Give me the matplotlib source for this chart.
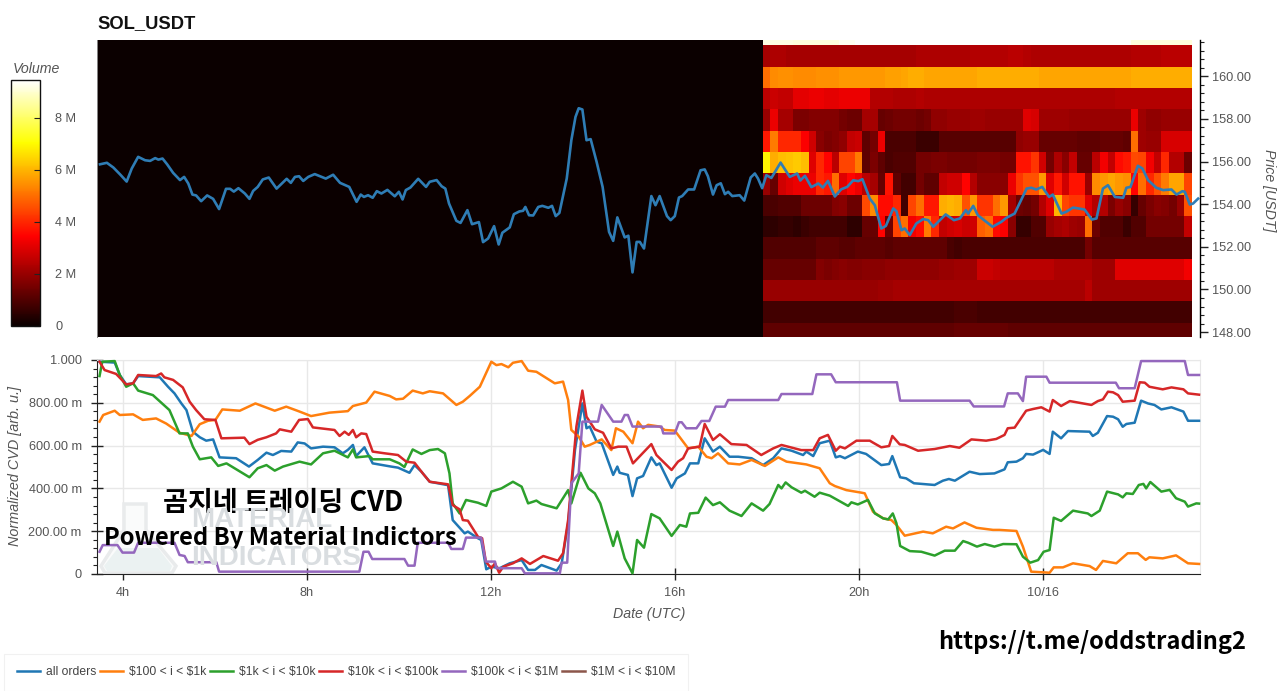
#sol_usdt order book heatmap with normalized cvd per order size below.
#values. hours count from 00:00 utc on 10/15 (24 = 10/16).

import numpy as np
import matplotlib
matplotlib.use("Agg")
import matplotlib.pyplot as plt
from matplotlib.patches import Polygon
from matplotlib.ticker import FixedLocator, FuncFormatter, MultipleLocator

plt.rcParams["font.family"] = ["Liberation Sans", "DejaVu Sans"]

W, H = 1280, 691

price_hours = [3.50, 3.65, 3.79, 3.94, 4.08, 4.19, 4.33, 4.48, 4.59, 4.70, 4.77, 4.86, 4.96, 5.09, 5.24, 5.33, 5.42,
               5.51, 5.59, 5.70, 5.83, 5.96, 6.09, 6.24, 6.33, 6.41, 6.51, 6.65, 6.75, 6.83, 6.93, 7.04, 7.17, 7.34,
               7.56, 7.65, 7.74, 7.83, 7.92, 8.03, 8.17, 8.41, 8.57, 8.72, 8.92, 9.08, 9.17, 9.24, 9.33, 9.43, 9.52,
               9.62, 9.75, 9.91, 10.0, 10.08, 10.15, 10.25, 10.42, 10.59, 10.67, 10.82,
               10.93, 11.01, 11.09, 11.25, 11.34, 11.49, 11.59, 11.74, 11.83, 11.94, 12.07, 12.17, 12.25, 12.41,
               12.50, 12.62, 12.70, 12.75, 12.83, 12.92, 13.03, 13.12, 13.25, 13.33, 13.41, 13.49, 13.65, 13.75,
               13.84, 13.91, 13.99, 14.08, 14.17, 14.30, 14.43, 14.57, 14.66, 14.75, 14.91, 14.99, 15.08, 15.17,
               15.24, 15.33, 15.49, 15.58, 15.67, 15.83, 15.91, 16.0, 16.09, 16.16, 16.29, 16.42, 16.56, 16.65,
               16.72, 16.83, 16.91, 17.0, 17.09, 17.16, 17.25, 17.41, 17.51, 17.65, 17.74, 17.81, 17.90,
               17.99, 18.10, 18.30, 18.50, 18.66, 18.73, 18.83, 18.97, 19.12, 19.22, 19.33, 19.48, 19.62, 19.75,
               19.88, 19.99, 20.08, 20.24, 20.35, 20.49, 20.59, 20.75, 20.82, 20.93, 21.0, 21.11, 21.25, 21.40,
               21.51, 21.62, 21.89, 22.07, 22.2, 22.33, 22.38, 22.49, 22.59, 22.91, 23.1, 23.21, 23.39, 23.65,
               23.75, 23.86, 23.99, 24.14, 24.22, 24.41, 24.51, 24.66, 24.91, 25.07, 25.17, 25.31, 25.42, 25.57,
               25.75, 25.82, 25.91, 26.07, 26.17, 26.29, 26.47, 26.62, 26.8, 26.91, 27.04, 27.09, 27.2, 27.27, 27.38]
price_vals = [155.87, 155.94, 155.72, 155.39, 155.06, 155.67, 156.22, 156.06, 156.03, 156.16, 156.09, 156.14, 155.87,
              155.47, 155.13, 155.28, 154.97, 154.45, 154.41, 154.14, 154.41, 154.25, 153.77, 154.72, 154.72, 154.59,
              154.75, 154.5, 154.25, 154.62, 154.81, 155.16, 155.25, 154.73, 155.19, 155.0, 155.28, 155.31, 155.09,
              155.28, 155.41, 155.2, 155.38, 155.0, 154.81, 154.11, 154.45, 154.34, 154.42, 154.3, 154.61, 154.5,
              154.67, 154.37, 154.58, 154.22, 154.66, 154.78, 155.19, 154.81, 155.05, 155.13,
              154.84, 154.73, 154.03, 153.22, 153.12, 153.72, 153.06, 153.16, 152.22, 152.39, 152.97, 152.11, 152.66,
              152.91, 153.53, 153.66, 153.69, 153.87, 153.48, 153.47, 153.87, 153.92, 153.83, 153.92, 153.44, 153.59,
              155.2, 157.0, 158.09, 158.5, 158.44, 157.0, 157.05, 155.98, 154.81, 152.7, 152.28, 153.38, 152.44,
              152.52, 150.8, 152.23, 152.23, 151.92, 154.38, 153.95, 154.38, 153.44, 153.25, 153.44, 154.31, 154.38,
              154.69, 154.69, 155.59, 155.63, 155.31, 154.45, 154.89, 154.98, 154.47, 154.58, 154.38, 154.42, 154.17,
              155.25, 155.44, 155.2, 154.75,
              155.36, 155.23, 155.95, 155.28, 155.44, 155.11, 155.33, 154.8, 154.97, 154.78, 155.09, 154.36, 154.7,
              154.81, 155.12, 155.08, 155.17, 154.26, 153.95, 152.86, 152.98, 153.8, 153.67, 152.78, 152.86, 152.55,
              153.09, 153.3, 153.25, 152.94, 153.52, 153.25, 153.33, 153.72, 153.56, 153.92, 153.48, 152.94, 153.17,
              153.36, 153.56, 154.73, 154.77, 154.69, 154.81, 154.34, 154.45, 153.56, 153.64, 153.84, 153.75, 153.28,
              153.33, 154.73, 154.89, 154.34, 154.3, 154.77, 154.81, 155.8, 155.67, 155.13, 154.77, 154.66, 154.69,
              154.45, 154.61, 154.58, 153.98, 154.03, 154.26]

#volume per 1 usd price bin (rows, top to bottom) and 10 min column, in millions
vol_strip = [9.2, 9.2, 9.2, 9.2, 9.1, 9.1, 9.1, 9.1, 9.1, 9.1, 9.3, 9.3, 9.4, 9.4,
             9.4, 9.4, 9.4, 9.4, 9.4, 9.4, 9.4, 9.4, 9.4, 9.4, 9.4, 9.4, 9.4, 9.4,
             9.4, 9.4, 9.4, 9.4, 9.4, 9.4, 9.4, 9.4, 9.4, 9.4, 9.4, 9.4, 9.4, 9.4,
             9.4, 9.4, 9.4, 9.4, 9.4, 9.4, 9.1, 9.1, 9.1, 9.1, 9.1, 9.1, 9.1, 9.1]
vol_161 = [2.2, 2.3, 2.3, 2.2, 2.2, 2.2, 2.2, 2.2, 2.2, 2.2, 2.2, 2.2, 2.2, 2.2,
           2.2, 2.2, 2.2, 2.2, 2.2, 2.2, 2.3, 2.3, 2.3, 2.3, 2.3, 2.3, 2.3, 2.4,
           2.4, 2.4, 2.4, 2.4, 2.5, 2.5, 2.4, 2.3, 2.3, 2.3, 2.3, 2.3, 2.3, 2.3,
           2.3, 2.3, 2.3, 2.3, 2.3, 2.3, 2.4, 2.4, 2.4, 2.4, 2.5, 2.5, 2.5, 2.5]
vol_160 = [5.0, 5.4, 5.5, 5.5, 5.4, 5.4, 5.4, 5.5, 5.5, 5.5, 5.6, 5.6, 5.6, 5.6,
           5.6, 5.6, 5.7, 5.7, 5.8, 5.9, 5.9, 5.8, 5.8, 5.8, 5.8, 5.8, 5.8, 5.8,
           5.9, 5.9, 5.9, 5.9, 5.9, 5.9, 5.9, 5.9, 5.8, 5.8, 5.8, 5.8, 5.8, 5.8,
           5.8, 5.8, 5.8, 5.8, 5.8, 5.8, 5.9, 5.9, 5.9, 5.9, 5.9, 5.9, 5.9, 5.9]
vol_159 = [2.5, 2.7, 2.6, 2.6, 3.1, 3.1, 3.2, 3.2, 3.1, 3.1, 3.2, 3.2, 3.2, 3.2,
           2.4, 2.4, 2.4, 2.3, 2.3, 2.3, 2.4, 2.3, 2.3, 2.3, 2.3, 2.3, 2.3, 2.3,
           2.3, 2.3, 2.3, 2.3, 2.3, 2.3, 2.3, 2.3, 2.3, 2.3, 2.3, 2.3, 2.3, 2.3,
           2.3, 2.3, 2.3, 2.3, 2.4, 2.4, 2.4, 2.4, 2.4, 2.4, 2.4, 2.4, 2.4, 2.4]
vol_158 = [2.0, 3.2, 2.2, 2.2, 1.6, 1.6, 1.7, 1.7, 1.7, 1.7, 1.5, 1.4, 1.4, 2.2,
           2.2, 1.3, 1.4, 1.5, 1.5, 1.5, 1.4, 1.5, 1.9, 1.9, 2.0, 2.0, 2.0, 2.1,
           2.1, 2.0, 2.0, 2.0, 2.0, 2.0, 3.0, 2.9, 2.1, 2.1, 2.1, 2.1, 2.0, 2.0,
           2.0, 2.0, 2.0, 2.0, 2.0, 2.0, 3.2, 2.1, 1.9, 1.9, 2.0, 2.0, 2.0, 2.0]
vol_157 = [3.8, 5.2, 4.0, 4.0, 4.0, 3.4, 2.8, 1.8, 1.6, 1.7, 1.9, 2.6, 2.7, 1.2,
           1.5, 3.2, 0.9, 0.9, 0.9, 0.9, 0.7, 0.7, 0.7, 1.1, 1.1, 1.1, 1.1, 1.1,
           1.1, 1.1, 1.1, 1.1, 1.1, 1.9, 2.0, 2.0, 1.3, 1.3, 1.3, 1.3, 1.3, 1.2,
           1.2, 1.2, 1.3, 1.3, 1.3, 1.2, 5.0, 2.1, 2.0, 2.0, 2.9, 2.9, 2.9, 2.9]
vol_156 = [6.9, 5.9, 6.1, 6.2, 6.3, 6.1, 3.0, 4.0, 3.5, 2.5, 4.4, 4.4, 5.2, 1.2,
           1.6, 1.2, 0.9, 1.0, 1.0, 1.0, 1.5, 1.5, 1.6, 1.6, 1.5, 1.5, 1.5, 1.5,
           1.6, 1.6, 1.6, 1.5, 1.5, 3.7, 3.7, 4.2, 2.8, 1.5, 2.3, 1.8, 2.6, 1.3,
           1.3, 2.5, 3.3, 2.6, 3.6, 3.8, 4.5, 4.4, 3.3, 2.6, 4.0, 2.4, 2.4, 1.4]
vol_155 = [2.0, 1.3, 2.8, 3.0, 3.2, 3.2, 3.2, 4.0, 3.8, 5.0, 3.0, 3.5, 3.2, 2.5,
           2.2, 1.3, 3.7, 1.2, 0.8, 0.8, 1.5, 1.2, 1.2, 2.6, 2.8, 2.8, 3.5, 2.4,
           1.8, 1.8, 1.8, 1.8, 3.2, 4.2, 4.6, 4.6, 5.6, 3.0, 3.8, 2.8, 3.7, 3.7,
           2.0, 5.4, 5.6, 5.8, 5.6, 5.5, 3.5, 5.0, 4.0, 4.6, 5.2, 5.8, 5.8, 4.4]
vol_154 = [0.9, 0.9, 1.0, 1.0, 1.0, 1.4, 1.4, 1.4, 1.4, 1.7, 1.8, 1.4, 1.4, 4.5,
           5.4, 3.6, 3.6, 4.0, 0.8, 4.4, 5.0, 3.8, 3.8, 5.9, 6.0, 5.9, 4.6, 5.6,
           4.2, 4.2, 5.0, 5.6, 2.2, 1.4, 1.3, 1.5, 2.4, 3.0, 6.0, 4.4, 4.2, 4.2,
           3.0, 2.4, 2.4, 1.6, 2.0, 1.8, 0.6, 1.3, 1.6, 1.8, 1.7, 1.5, 2.0, 4.6]
vol_153 = [0.5, 0.5, 0.6, 0.6, 0.5, 0.7, 0.8, 0.8, 0.8, 0.8, 0.8, 0.5, 0.5, 1.3,
           1.3, 3.5, 1.4, 4.4, 5.0, 3.3, 3.6, 5.2, 4.0, 2.6, 2.8, 2.9, 2.7, 2.8,
           4.8, 5.0, 3.6, 3.4, 1.8, 0.6, 0.6, 1.0, 1.0, 2.0, 2.2, 2.3, 2.1, 2.0,
           5.0, 1.4, 1.0, 1.0, 1.0, 0.7, 1.0, 1.0, 1.5, 1.5, 1.5, 1.5, 1.5, 2.6]
vol_152 = [1.0, 1.0, 1.0, 1.0, 1.0, 1.0, 1.0, 1.2, 1.2, 1.2, 1.1, 1.1, 1.2, 1.2,
           1.2, 1.2, 1.1, 1.2, 1.2, 1.2, 1.2, 1.2, 1.2, 1.2, 0.9, 0.8, 0.9, 0.9,
           0.9, 0.9, 0.9, 0.9, 0.9, 0.9, 0.9, 0.9, 0.9, 0.9, 0.9, 0.9, 0.9, 0.9,
           1.5, 1.1, 1.1, 1.1, 1.1, 1.1, 1.1, 1.1, 1.1, 1.1, 1.1, 1.1, 1.1, 1.1]
vol_151 = [1.3, 1.3, 1.3, 1.3, 1.3, 1.3, 1.3, 1.7, 1.6, 1.7, 1.8, 1.7, 1.7, 1.8,
           1.8, 1.8, 1.9, 1.9, 1.9, 1.9, 1.9, 1.9, 1.9, 2.0, 2.0, 2.1, 2.1, 2.1,
           2.7, 2.7, 2.6, 2.5, 2.5, 2.5, 2.5, 2.5, 2.5, 2.5, 2.3, 2.3, 2.3, 2.3,
           2.3, 2.1, 2.1, 2.1, 3.0, 3.0, 3.0, 3.0, 3.0, 3.0, 3.0, 3.0, 3.0, 3.3]
vol_150 = [2.0, 2.0, 2.0, 2.0, 2.0, 2.0, 2.0, 2.0, 2.0, 2.0, 2.0, 2.0, 2.0, 2.0,
           2.0, 2.1, 2.1, 2.2, 2.2, 2.2, 2.2, 2.2, 2.2, 2.2, 2.2, 2.2, 2.2, 2.2,
           2.2, 2.2, 2.2, 2.2, 2.2, 2.2, 2.2, 2.2, 2.2, 2.2, 2.2, 2.2, 2.2, 2.2,
           2.5, 2.1, 2.1, 2.1, 2.1, 2.1, 2.1, 2.1, 2.1, 2.1, 2.1, 2.1, 2.1, 2.1]
vol_149 = [0.8, 0.8, 0.8, 0.8, 0.8, 0.8, 0.8, 0.8, 0.8, 0.8, 0.8, 0.8, 0.8, 0.8,
           0.8, 0.8, 0.8, 0.8, 0.8, 0.8, 0.8, 0.8, 0.8, 0.8, 0.8, 0.9, 0.9, 0.9,
           0.8, 0.8, 0.8, 0.8, 0.8, 0.8, 0.8, 0.8, 0.8, 0.8, 0.8, 0.8, 0.8, 0.8,
           0.8, 0.8, 0.8, 0.8, 0.8, 0.8, 0.8, 0.8, 0.8, 0.8, 0.8, 0.8, 0.8, 0.8]
vol_148 = [1.2, 1.2, 1.2, 1.2, 1.2, 1.2, 1.2, 1.2, 1.2, 1.2, 1.2, 1.2, 1.2, 1.2,
           1.2, 1.2, 1.2, 1.2, 1.2, 1.2, 1.2, 1.2, 1.2, 1.2, 1.2, 1.3, 1.3, 1.3,
           1.3, 1.3, 1.3, 1.3, 1.2, 1.2, 1.2, 1.2, 1.2, 1.2, 1.2, 1.2, 1.2, 1.2,
           1.2, 1.2, 1.2, 1.2, 1.2, 1.2, 1.2, 1.2, 1.2, 1.2, 1.2, 1.2, 1.2, 1.2]
volume_rows = [vol_strip, vol_161, vol_160, vol_159, vol_158, vol_157, vol_156, vol_155, vol_154,
               vol_153, vol_152, vol_151, vol_150, vol_149, vol_148]

#cvd series, normalized
all_hours = [3.49, 3.82, 3.93, 4.07, 4.22, 4.33, 4.80, 4.98, 5.12, 5.27, 5.38, 5.52, 5.67, 5.81, 5.96, 6.10, 6.46, 6.74,
             6.93, 7.12, 7.26, 7.44, 7.66, 7.80, 7.95, 8.09, 8.35, 8.60, 8.78, 8.89, 9.0, 9.07, 9.25, 9.43, 9.83, 9.98,
             10.23, 10.34, 10.49, 10.67, 11.07, 11.17, 11.43, 11.5, 11.72, 11.79, 11.9,
             12.01, 12.19, 12.41, 12.67, 12.81, 12.96, 13.1, 13.43, 13.54, 13.68, 13.83, 13.99, 14.08, 14.15, 14.3,
             14.41, 14.66, 14.75, 14.8, 14.98, 15.08, 15.18, 15.31, 15.49, 15.6, 15.67, 15.93, 16.04, 16.22, 16.33,
             16.51, 16.65, 16.83, 16.98, 17.19, 17.38, 17.67, 17.92, 18.14, 18.32, 18.54, 18.79, 18.86, 19.01, 19.15,
             19.37, 19.5, 19.59, 19.7, 19.98, 20.16, 20.49, 20.66, 20.73, 20.9, 21.03, 21.2, 21.65, 21.83, 21.96,
             22.09, 22.41, 22.63, 22.95, 23.17, 23.24, 23.43, 23.57, 23.64, 23.79, 24.01, 24.15, 24.22, 24.4, 24.55,
             25.02, 25.09, 25.2, 25.4, 25.53, 25.64, 25.74, 25.82, 26.0, 26.14, 26.29, 26.43, 26.58, 26.8, 27.06,
             27.16, 27.4]
all_vals = [.992, .988, .93, .886, .891, .925, .919, .875, .844, .797, .766, .665, .639, .623, .629, .545, .541, .502,
            .533, .567, .556, .575, .572, .615, .61, .587, .595, .592, .564, .58, .603, .551, .592, .517, .502, .497,
            .473, .509, .478, .431, .415, .252, .19, .198, .167, .159, .022,
            .034, .027, .05, .065, .019, .019, .042, .016, .05, .237, .58, .797, .681, .689, .618,
            .611, .463, .502, .473, .463, .364, .447, .458, .545, .509, .517, .403, .447, .47, .517,
            .517, .634, .572, .595, .548, .548, .541, .509, .541, .587, .576, .556, .572, .551, .611,
            .623, .545, .551, .541, .572, .561, .509, .514, .551, .452, .447, .424, .416, .436, .444,
            .436, .478, .467, .47, .489, .522, .525, .541, .561, .558, .58, .561, .665, .634, .668,
            .665, .645, .66, .738, .735, .723, .688, .701, .707, .81, .797, .79, .769, .779, .759,
            .716, .716]

small_hours = [3.49, 3.57, 3.82, 3.93, 4.22, 4.43, 4.72, 4.94, 5.23, 5.49, 5.67, 5.85, 6.01, 6.16, 6.54, 6.88, 7.3, 7.55,
               7.84, 8.09, 8.49, 8.89, 9.0, 9.29, 9.47, 9.8, 9.94, 10.09, 10.3, 10.52, 10.67, 10.96, 11.25, 11.39,
               11.54, 11.76, 12.01, 12.12, 12.23, 12.38, 12.48, 12.67, 12.81, 12.99, 13.39, 13.57, 13.68, 13.75,
               13.91, 14.04, 14.15, 14.41, 14.62, 14.72, 14.88, 15.08, 15.2, 15.31, 15.42, 15.67, 15.78, 16.0, 16.29,
               16.51, 16.69, 16.8, 16.94, 17.16, 17.41, 17.67, 17.96, 18.25, 18.43, 18.86, 19.15, 19.37, 19.48, 19.73,
               20.06, 20.13, 20.31, 20.53, 20.71, 20.82, 21.0, 21.4, 21.61, 21.9, 22.05, 22.3, 22.56, 22.92, 23.06,
               23.43, 23.57, 23.75, 24.15, 24.24, 24.44, 24.66, 25.02, 25.16, 25.31, 25.6, 25.85, 26.07, 26.24, 26.32,
               26.61, 26.9, 27.16, 27.4]
small_vals = [.712, .743, .763, .743, .746, .72, .727, .703, .66, .645, .7, .716, .72, .769, .763, .797, .763, .782,
              .759, .738, .754, .761, .785, .801, .852, .832, .816, .819, .857, .844, .854, .844, .79, .805,
              .832, .875, .992, .976, .981, .966, .987, .995, .95, .945, .891, .899, .813, .673,
              .642, .595, .603, .629, .579, .681, .665, .611, .712, .681, .697, .689, .673, .67, .587,
              .595, .548, .541, .564, .517, .512, .533, .505, .545, .525, .512, .494, .424, .411, .392,
              .38, .377, .291, .26, .252, .229, .179, .198, .19, .221, .213, .241, .216, .206, .206,
              .201, .128, .011, .006, .031, .031, .05, .037, .019, .061, .05, .097, .097, .066, .078,
              .073, .087, .05, .047]

mid_hours = [3.49, 3.55, 3.82, 3.93, 4.07, 4.22, 4.33, 4.65, 5.01, 5.23, 5.41, 5.52, 5.67, 5.92, 6.07, 6.25, 6.75, 6.93,
             7.12, 7.3, 7.48, 7.84, 8.09, 8.35, 8.6, 8.89, 9.0, 9.07, 9.36, 9.43, 9.8, 10.01, 10.12, 10.3, 10.49,
             10.67, 10.85, 11.0, 11.1, 11.17, 11.32, 11.46, 11.72, 11.9, 12.01, 12.23, 12.48, 12.67, 12.81, 12.99,
             13.1, 13.43, 13.68, 13.75, 13.95, 14.12, 14.26, 14.38, 14.66, 14.75, 14.91, 15.08, 15.18, 15.33, 15.49,
             15.67, 15.93, 16.11, 16.25, 16.33, 16.51, 16.67, 16.83, 16.98, 17.19, 17.45, 17.67, 17.92, 18.06, 18.25,
             18.32, 18.41, 18.54, 18.75, 18.83, 19.04, 19.15, 19.37, 19.77, 19.84, 19.98, 20.2, 20.35, 20.53, 20.64,
             20.74, 20.82, 20.9, 21.11, 21.36, 21.65, 21.87, 22.09, 22.27, 22.38, 22.57, 22.74, 22.95, 23.14, 23.43,
             23.57, 23.73, 23.9, 24.02, 24.15, 24.24, 24.4, 24.66, 24.98, 25.06, 25.24, 25.4, 25.64, 25.74, 25.82,
             25.96, 26.09, 26.19, 26.25, 26.34, 26.58, 26.76, 26.9, 27.09, 27.16, 27.34, 27.4]
mid_vals = [.925, .992, .995, .93, .875, .891, .857, .836, .766, .657, .657, .595, .536, .545, .505, .517, .452, .494,
            .509, .483, .502, .525, .512, .564, .576, .545, .582, .545, .551, .536, .536, .517, .5, .582, .561,
            .579, .584, .564, .47, .33, .283, .346, .333, .318, .385, .4, .431, .408, .33, .343,
            .327, .307, .392, .33, .473, .4, .377, .33, .131, .198, .073, .003, .159, .123, .28,
            .26, .178, .229, .221, .283, .286, .357, .322, .335, .296, .271, .33, .296, .327, .416,
            .4, .428, .405, .38, .389, .361, .38, .366, .318, .335, .325, .346, .283, .26, .255,
            .283, .237, .131, .107, .104, .086, .109, .109, .154, .146, .128, .14, .128, .14, .139,
            .081, .053, .065, .104, .112, .263, .248, .296, .283, .271, .296, .385, .372, .358, .377,
            .374, .416, .421, .4, .43, .385, .393, .354, .338, .315, .33, .329]

large_hours = [3.49, 3.6, 3.85, 4.07, 4.22, 4.33, 4.72, 4.83, 4.9, 5.09, 5.3, 5.45, 5.59, 5.77, 6.01, 6.14, 6.64, 6.75,
               6.93, 7.12, 7.33, 7.41, 7.66, 7.83, 8.02, 8.13, 8.6, 8.71, 8.82, 8.91, 9.0, 9.07, 9.18, 9.29, 9.43,
               9.69, 9.98, 10.16, 10.34, 10.52, 10.67, 11.07, 11.17, 11.32, 11.39, 11.5, 11.72, 11.81, 11.89,
               12.01, 12.09, 12.18, 12.27, 12.48, 12.67, 12.85, 13.14, 13.46, 13.57, 13.68, 13.86, 13.99, 14.08,
               14.26, 14.44, 14.62, 14.77, 14.95, 15.09, 15.24, 15.49, 15.6, 15.93, 16.07, 16.18, 16.29, 16.54, 16.65,
               16.83, 16.98, 17.23, 17.56, 17.88, 18.14, 18.32, 18.75, 19.01, 19.15, 19.33, 19.5, 19.59, 19.7, 19.95,
               20.24, 20.31, 20.49, 20.66, 20.73, 20.89, 21.0, 21.29, 21.65, 21.98, 22.19, 22.45, 22.77, 22.99, 23.17,
               23.24, 23.39, 23.64, 23.79, 23.97, 24.15, 24.22, 24.4, 24.59, 25.06, 25.2, 25.31, 25.42, 25.53, 25.64,
               25.74, 26.0, 26.11, 26.22, 26.32, 26.61, 26.8, 27.06, 27.16, 27.4]
large_vals = [.992, .953, .935, .886, .891, .93, .925, .937, .919, .907, .872, .805, .766, .723, .72, .634, .637, .607,
              .627, .639, .657, .676, .665, .72, .724, .685, .673, .645, .665, .65, .673, .639, .657, .654, .572,
              .564, .556, .525, .52, .47, .431, .419, .322, .302, .252, .249, .174, .167, .058,
              .027, .05, .006, .034, .05, .073, .047, .084, .062, .097, .252, .689, .857, .735,
              .676, .66, .587, .595, .595, .517, .551, .607, .556, .486, .525, .541, .587, .595, .701,
              .626, .653, .607, .603, .556, .587, .603, .579, .579, .634, .65, .576, .595, .587, .623,
              .623, .614, .592, .598, .645, .606, .603, .576, .584, .598, .59, .629, .623, .631, .65,
              .681, .684, .763, .771, .779, .759, .813, .785, .808, .79, .808, .816, .852, .849, .836,
              .805, .81, .896, .894, .875, .863, .872, .863, .844, .838]

whale_hours = [3.49, 3.56, 3.88, 3.99, 4.24, 4.33, 5.12, 5.23, 5.34, 5.41, 6.03, 6.09, 9.14, 9.23, 9.34, 9.42, 10.12, 10.2,
               10.34, 10.41, 11.07, 11.14, 11.39, 11.46, 11.79, 11.89, 12.09, 12.12, 12.67, 12.74, 13.5, 13.54, 13.66,
               13.75, 13.91, 13.99, 14.33, 14.41, 14.66, 14.84, 14.91, 14.98, 15.08, 15.71, 15.75, 16.0, 16.09, 16.15,
               16.25, 16.47, 16.58, 16.75, 16.89, 17.09, 17.16, 18.25, 18.32, 18.99, 19.08, 19.4, 19.5, 20.83, 20.9,
               22.41, 22.5, 23.16, 23.24, 23.46, 23.57, 23.64, 24.08, 24.15, 25.59, 25.66, 26.0, 26.14, 27.09, 27.16,
               27.4]
whale_vals = [.104, .135, .135, .1, .1, .146, .146, .089, .084, .055, .055, .011, .011, .104, .104, .07, .07, .039,
              .039, .146, .146, .117, .117, .17, .17, .058, .058, .027, .027, .003, .003, .053, .053,
              .424, .47, .712, .712, .79, .712, .712, .743, .743, .689, .689, .657, .657, .709, .709,
              .681, .681, .715, .715, .782, .782, .813, .813, .841, .841, .933, .933, .896, .896, .81,
              .81, .783, .783, .844, .844, .808, .922, .922, .894, .894, .868, .868, .995, .995, .93,
              .93]

cvd_series = [
    (r"all orders", all_hours, all_vals, "#1f77b4"),
    (r"\$100 < i < \$1k", small_hours, small_vals, "#ff7f0e"),
    (r"\$1k < i < \$10k", mid_hours, mid_vals, "#2ca02c"),
    (r"\$10k < i < \$100k", large_hours, large_vals, "#d62728"),
    (r"\$100k < i < \$1M", whale_hours, whale_vals, "#9467bd"),
]
#this bucket has a legend entry but no visible line
empty_label = r"\$1M < i < \$10M"
empty_color = "#8c564b"

x_ticks = [4, 8, 12, 16, 20, 24]
x_tick_labels = ["4h", "8h", "12h", "16h", "20h", "10/16"]
price_ticks = [148, 150, 152, 154, 156, 158, 160]
volume_ticks = [0, 2, 4, 6, 8]
cvd_ticks = [0, 0.2, 0.4, 0.6, 0.8, 1.0]
cvd_tick_labels = ["0", "200.00 m", "400.00 m", "600.00 m", "800.00 m", "1.000"]

GREY = "#555555"
X_RANGE = (3.435, 27.41)
VOL_MAX = 9.46
HEAT_START = 17.913


def box(x0, y0, x1, y1):
    #pixel box (y down) to figure fractions for add_axes
    return [x0 / W, 1 - y1 / H, (x1 - x0) / W, (y1 - y0) / H]


def fx(x):
    return x / W


def fy(y):
    return 1 - y / H


fig = plt.figure(figsize=(W / 100, H / 100), dpi=100, facecolor="white")

#heatmap + price
ax = fig.add_axes(box(97, 40, 1199.5, 337))
ax.set_xlim(X_RANGE)
ax.set_ylim(147.77, 161.7)
ax.axvspan(X_RANGE[0], HEAT_START, color=plt.cm.hot(0.0), lw=0, zorder=0)
col_edges = HEAT_START + np.arange(len(vol_161) + 1) / 6
row_edges = 162.45 - np.arange(len(volume_rows) + 1)
mesh = ax.pcolormesh(col_edges, row_edges, np.array(volume_rows), cmap="hot", vmin=0, vmax=VOL_MAX,
                     rasterized=True, zorder=1)
ax.plot(price_hours, price_vals, color="#2f7db5", lw=1.9, zorder=3, solid_joinstyle="round")
for side in ["top", "bottom"]:
    ax.spines[side].set_visible(False)
ax.spines["left"].set_color("#888888")
ax.spines["left"].set_linewidth(0.7)
ax.spines["right"].set_linewidth(1.0)
ax.set_xticks([])
ax.yaxis.tick_right()
ax.yaxis.set_major_locator(FixedLocator(price_ticks))
ax.yaxis.set_minor_locator(MultipleLocator(0.4))
ax.yaxis.set_major_formatter(FuncFormatter(lambda v, _: f"{v:.2f}"))
ax.tick_params(axis="y", which="major", length=5.5, width=1, labelsize=9.2, labelcolor=GREY, pad=3.5, color="#222222")
ax.tick_params(axis="y", which="minor", length=3, width=0.8, color="#222222")

#colorbar
cax = fig.add_axes(box(10.5, 80, 40, 326))
cb = fig.colorbar(mesh, cax=cax, ticks=volume_ticks)
cb.outline.set_edgecolor("#111111")
cb.outline.set_linewidth(1.0)
cax.set_yticklabels([("0" if t == 0 else f"{t} M") for t in volume_ticks])
cax.tick_params(axis="y", direction="in", length=4.5, width=0.8, color="#222222", labelsize=9.2,
                labelcolor=GREY, pad=11, right=True)

#cvd panel
ax2 = fig.add_axes(box(97, 360, 1199.5, 574))
ax2.set_xlim(X_RANGE)
ax2.set_ylim(0, 1)
ax2.grid(True, color="#e8e8e8", lw=1.0, zorder=0)
ax2.set_axisbelow(True)
for side in ["top", "right"]:
    ax2.spines[side].set_color("#e8e8e8")
ax2.spines["left"].set_color("#222222")
ax2.spines["bottom"].set_color("#222222")
ax2.set_xticks(x_ticks)
ax2.set_xticklabels(x_tick_labels)
ax2.set_yticks(cvd_ticks)
ax2.set_yticklabels(cvd_tick_labels)
ax2.yaxis.set_minor_locator(MultipleLocator(0.04))
ax2.tick_params(axis="both", which="major", direction="inout", length=9, width=1, labelsize=9.2,
                labelcolor=GREY, color="#222222")
ax2.tick_params(axis="x", pad=5)
ax2.tick_params(axis="y", pad=6.5)
ax2.tick_params(axis="y", which="minor", length=3, width=0.8, color="#222222")

for label, hours, vals, color in cvd_series:
    ax2.plot(hours, vals, color=color, lw=1.8, label=label, zorder=3, clip_on=False, solid_joinstyle="round")
ax2.plot([], [], color=empty_color, lw=1.8, label=empty_label)

#watermark under the lines
flask = [(124, 504), (146, 504), (146, 530), (176, 566), (172, 573), (105, 573), (101, 566), (124, 530)]
ax2.add_patch(Polygon([(fx(x), fy(y)) for x, y in flask], closed=True, transform=fig.transFigure,
                      fc="#fafbfb", ec="#e9ebec", lw=2.5, zorder=1))
liquid = [(118, 548), (158, 548), (172, 566), (170, 571), (107, 571), (104, 566)]
ax2.add_patch(Polygon([(fx(x), fy(y)) for x, y in liquid], closed=True, transform=fig.transFigure,
                      fc="#ebf2f2", ec="none", zorder=1))
fig.text(fx(191), fy(520), "MATERIAL", fontsize=20, fontweight="bold", color="#d9dde0", va="center", ha="left", zorder=1)
fig.text(fx(191), fy(558), "INDICATORS", fontsize=20, fontweight="bold", color="#d9dde0", va="center", ha="left", zorder=1)

#overlay text and labels
overlay = ["Noto Sans CJK KR", "DejaVu Sans"]
ax2.text(fx(283), fy(503), "곰지네 트레이딩 CVD", transform=fig.transFigure, family=overlay, fontsize=19.5,
         fontweight="bold", color="black", ha="center", va="center", zorder=6)
ax2.text(fx(280), fy(538), "Powered By Material Indictors", transform=fig.transFigure, family=overlay, fontsize=17.1,
         fontweight="bold", color="black", ha="center", va="center", zorder=6)
fig.text(fx(1092), fy(642), "https://t.me/oddstrading2", family=overlay, fontsize=17, fontweight="bold",
         color="black", ha="center", va="center")

fig.text(fx(97), fy(24), "SOL_USDT", fontsize=13.2, fontweight="bold", color="#111111", ha="left", va="center")
fig.text(fx(36), fy(69), "Volume", fontsize=10.2, style="italic", color=GREY, ha="center", va="center")
fig.text(fx(649), fy(614), "Date (UTC)", fontsize=10.2, style="italic", color=GREY, ha="center", va="center")
fig.text(fx(15), fy(466), "Normalized CVD [arb. u.]", fontsize=10.4, style="italic", color=GREY, rotation=90,
         ha="center", va="center")
fig.text(fx(1269), fy(190), "Price [USDT]", fontsize=10.2, style="italic", color=GREY, rotation=270,
         ha="center", va="center")

leg = ax2.legend(loc="lower left", bbox_to_anchor=(fx(4), fy(691)), bbox_transform=fig.transFigure, ncol=6, fontsize=8.7,
                 frameon=True, fancybox=False, edgecolor="#eeeeee", handlelength=1.9, handletextpad=0.5,
                 columnspacing=0.3, borderpad=1.05, borderaxespad=0)
leg.get_frame().set_linewidth(0.8)
for t in leg.get_texts():
    t.set_color("#444444")

fig.savefig("out.png", dpi=100)
